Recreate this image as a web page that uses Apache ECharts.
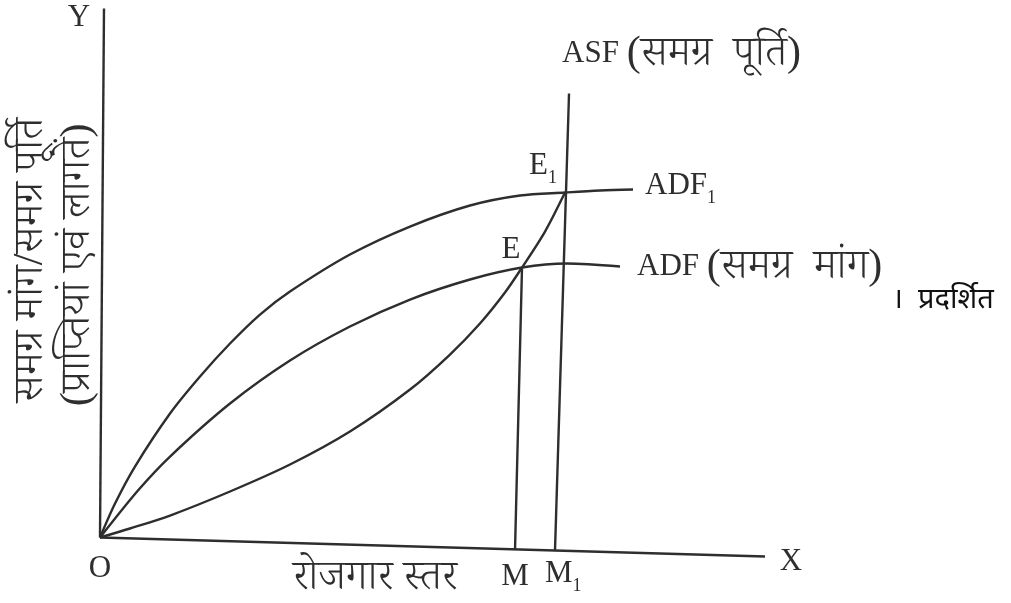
<!DOCTYPE html>
<html>
<head>
<meta charset="utf-8">
<script src="https://cdn.jsdelivr.net/npm/echarts@6/dist/echarts.min.js"></script>
<style>
  html, body { margin: 0; padding: 0; background: #ffffff; }
  #chart { width: 1011px; height: 603px; }
</style>
</head>
<body>
<div id="chart"></div>
<script>
// Keynesian employment diagram: aggregate demand (ADF, ADF1) against aggregate supply (ASF).
// Horizontal: employment level (0-100), vertical: receipts / costs (0-100).

// Axes as printed (slightly skewed)
const xAxisPath = [[0, 0], [100, -3.6]];
const yAxisPath = [[0, 0], [0.6, 100.4]];

// Aggregate demand after the rise (ADF1)
const adf1 = [[0, 0], [2.26, 6.45], [5.26, 13.47], [10.53, 23.53], [15.04, 30.55], [19.55, 36.81],
  [24.06, 42.31], [28.57, 46.68], [37.59, 53.7], [46.62, 59.01], [55.64, 63.0], [63.16, 64.9],
  [69.92, 65.46], [75.19, 65.84], [80.15, 66.03]];

// Aggregate demand (ADF)
const adf = [[0, 0], [5.71, 8.92], [10.53, 15.37], [19.55, 25.43], [28.57, 33.59], [37.59, 40.04],
  [46.62, 45.16], [55.64, 48.96], [63.46, 51.23], [70.23, 51.99], [78.2, 51.42]];

// Aggregate supply (ASF), rising part up to full employment
const asf = [[0, 0], [4.51, 1.71], [10.53, 4.17], [19.55, 8.73], [28.57, 13.85], [37.59, 20.11],
  [46.62, 28.08], [52.63, 34.72], [57.14, 40.61], [60.9, 46.49], [63.46, 51.23], [66.92, 58.06],
  [69.92, 65.46]];

// Vertical part of ASF, down to M1 on the employment axis
const asfVertical = [[70.53, 84.25], [68.42, -2.46]];
// Perpendicular from E down to M
const eToM = [[63.46, 51.23], [62.41, -2.25]];

// Text
const labelE = 'E', labelE1 = ['E', '1'];
const labelM = 'M', labelM1 = ['M', '1'];
const labelADF1 = ['ADF', '1'];
const labelADF = ['ADF', '(समग्र  मांग)'];
const labelASF = ['ASF', '(समग्र  पूर्ति)'];
const xTitle = 'रोजगार स्तर';
const yTitle = ['समग्र मांग/समग्र पूर्ति', '(प्राप्तियां एवं लागतें)'];
const sideText = '।  प्रदर्शित';

const ink = '#2e2e2e';
const serif = '"Liberation Serif", "Noto Serif Devanagari", "Lohit Devanagari", "Noto Serif", "DejaVu Serif", serif';
const chart = echarts.init(document.getElementById('chart'), null, { renderer: 'canvas' });

function path(name, data, smooth) {
  return {
    name, type: 'line', data, smooth: smooth ? 0.3 : false, symbol: 'none', silent: true,
    lineStyle: { color: ink, width: 2.4 }, z: 2
  };
}

chart.setOption({
  backgroundColor: '#ffffff',
  animation: false,
  grid: { left: 100, width: 665, top: 0, height: 590.2 },
  xAxis: { type: 'value', min: 0, max: 100, show: false },
  yAxis: { type: 'value', min: -10, max: 102, show: false },
  series: [
    path('x-axis', xAxisPath, false),
    path('y-axis', yAxisPath, false),
    path('ADF1', adf1, true),
    path('ADF', adf, true),
    path('ASF', asf, true),
    path('ASF vertical', asfVertical, false),
    path('EM', eToM, false)
  ]
});

// Annotations placed next to the points they name
const rich = {
  b: { fontSize: 31, lineHeight: 34, fontFamily: serif, fill: ink, verticalAlign: 'top' },
  s: { fontSize: 18, lineHeight: 18, fontFamily: serif, fill: ink, padding: [19, 0, 0, 0], verticalAlign: 'top' },
  l: { fontSize: 31, fontFamily: serif, fill: ink },
  d: { fontSize: 42, fontFamily: serif, fontWeight: 300, fill: ink }
};
const last = a => a[a.length - 1];
const px = p => chart.convertToPixel({ gridIndex: 0 }, p);

function note(point, text, dx, dy, align, vAlign) {
  const [x, y] = px(point);
  return {
    type: 'text', x: x + dx, y: y + dy, silent: true,
    style: {
      text, rich, fill: ink, font: '31px ' + serif,
      align: align || 'center', verticalAlign: vAlign || 'middle'
    }
  };
}

const E = adf[8], E1 = last(asf);
const notes = [
  note(E, labelE, -11, -18),
  note(E1, `{b|${labelE1[0]}}{s|${labelE1[1]}}`, -36, -42, 'left', 'top'),
  note(last(adf1), `{b|${labelADF1[0]}}{s|${labelADF1[1]}}`, 12, -19, 'left', 'top'),
  note(last(adf), `{l|${labelADF[0]}} {d|${labelADF[1]}}`, 17, 0, 'left'),
  note(asfVertical[0], `{l|${labelASF[0]}} {d|${labelASF[1]}}`, -7, -40, 'left'),
  note(eToM[1], labelM, 0, 27),
  note(asfVertical[1], `{b|${labelM1[0]}}{s|${labelM1[1]}}`, -10, 8, 'left', 'top'),
  note(xAxisPath[0], 'O', 0, 31),
  note(last(xAxisPath), 'X', 26, 5),
  note(last(yAxisPath), 'Y', -25, 9)
];

const dev = '300 42px ' + serif;
chart.setOption({
  graphic: notes.concat([
    {
      type: 'text', x: 375, y: 578,
      style: { text: xTitle, font: dev, fill: ink, align: 'center', verticalAlign: 'middle' }
    },
    {
      type: 'text', x: 31, y: 260, rotation: Math.PI / 2,
      style: { text: yTitle[0], font: dev, fill: ink, align: 'center', verticalAlign: 'middle' }
    },
    {
      type: 'text', x: 78, y: 265, rotation: Math.PI / 2,
      style: { text: yTitle[1], font: dev, fill: ink, align: 'center', verticalAlign: 'middle' }
    },
    {
      type: 'text', x: 892, y: 300,
      style: { text: sideText, font: '29px "Noto Sans", sans-serif', fill: '#111', align: 'left', verticalAlign: 'middle' }
    }
  ])
});
</script>
</body>
</html>
